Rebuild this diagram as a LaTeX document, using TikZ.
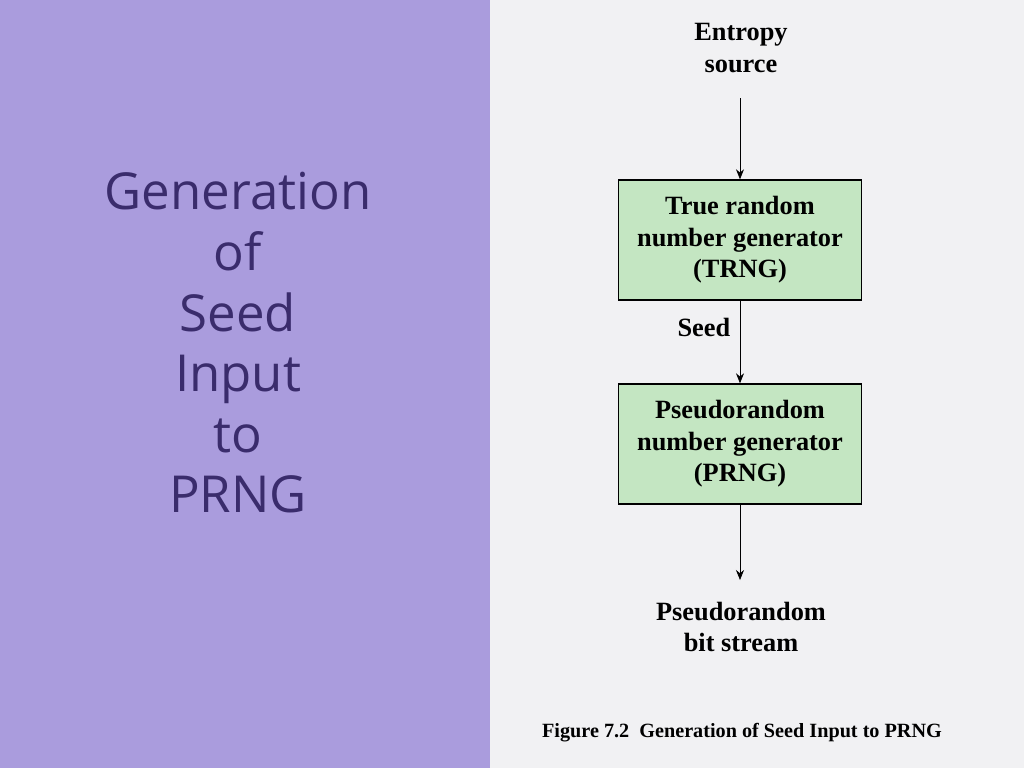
\documentclass[tikz,border=0pt]{standalone}
\usepackage{fontspec}
\setmainfont{Liberation Serif}
\newfontfamily\titlefont{Open Sans}
\usetikzlibrary{positioning,arrows.meta}
\definecolor{panelpurple}{HTML}{AA9CDD}
\definecolor{titlepurple}{HTML}{3A2C6C}
\definecolor{boxgreen}{HTML}{C4E6C2}
\definecolor{paper}{HTML}{F1F1F3}
\tikzset{
  gen/.style={draw=black, thick, fill=boxgreen, minimum width=4.86cm, minimum height=2.4cm,
    align=center, font=\fontsize{15}{18}\selectfont\bfseries},
  lbl/.style={align=center, font=\fontsize{15}{18}\selectfont\bfseries},
  flow/.style={-{Stealth[length=2mm,width=1.6mm]}, thin}
}
\begin{document}
\begin{tikzpicture}[x=0.02cm,y=-0.02cm]
    % Background
    \fill[paper] (0,0) rectangle (1024,768);
    \fill[panelpurple] (0,0) rectangle (490,768);
    \useasboundingbox (0,0) rectangle (1024,768);

    % Title
    \node[text=titlepurple, align=center, font=\titlefont\fontsize{29}{34.5}\selectfont]
        (title) at (238,343) {Generation\\of\\Seed\\Input\\to\\PRNG};

    % Flow
    \node[lbl] (entropy) at (741,48) {Entropy\\source};
    \node[gen] (trng) at (740,240) {True random\\number generator\\(TRNG)};
    \node[gen] (prng) at (740,444) {Pseudorandom\\number generator\\(PRNG)};
    \node[lbl] (stream) at (741,627) {Pseudorandom\\bit stream};

    \coordinate (e1) at (740,98);
    \draw[flow] (e1) -- (trng.north);
    \draw[flow] (trng.south) -- node[lbl, pos=0.33, left=2pt] {Seed} (prng.north);
    \coordinate (s1) at (740,580);
    \draw[flow] (prng.south) -- (s1);

    % Caption
    \node[font=\fontsize{11.5}{14}\selectfont\bfseries] (caption) at (742,733)
        {Figure 7.2\enspace Generation of Seed Input to PRNG};
\end{tikzpicture}
\end{document}
